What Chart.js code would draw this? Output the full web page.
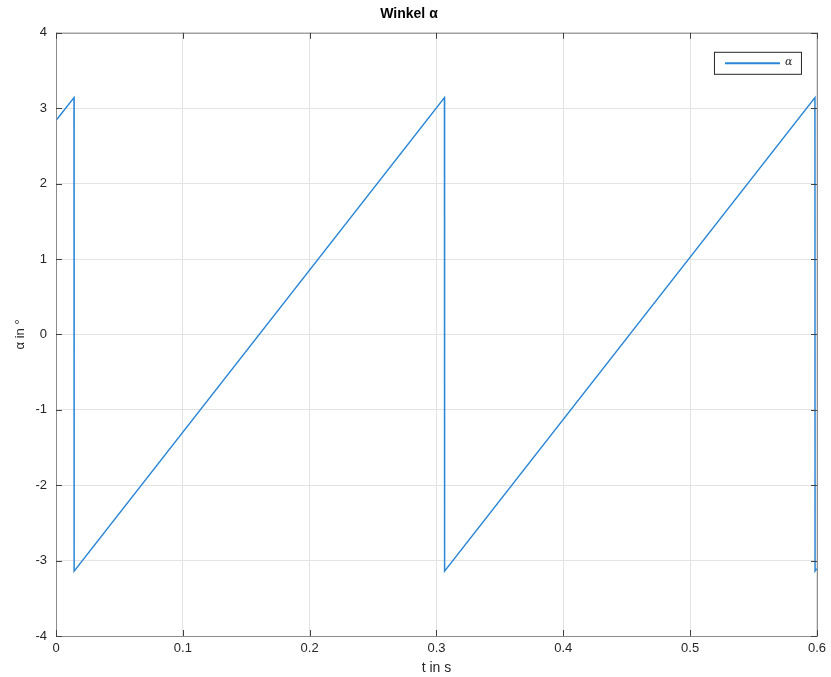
<!DOCTYPE html>
<html>
<head>
<meta charset="utf-8">
<script src="https://cdn.jsdelivr.net/npm/chart.js@4"></script>
<style>
  html, body { margin: 0; padding: 0; background: #fff; }
  #wrap { width: 831px; height: 677px; }
</style>
</head>
<body>
<div id="wrap"><canvas id="alphaChart" width="831" height="677"></canvas></div>
<script>
// Winkel alpha over time (sawtooth between -pi and pi)
const timeValues = [0, 0.0142, 0.0143, 0.3063, 0.3064, 0.5984, 0.5985, 0.6]
const alphaValues = [2.836, 3.14, -3.14, 3.14, -3.14, 3.14, -3.14, -3.107]
const xTicks = [0, 0.1, 0.2, 0.3, 0.4, 0.5, 0.6]
const yTicks = [-4, -3, -2, -1, 0, 1, 2, 3, 4]
const seriesLabel = "α"

const fontFamily = "'Liberation Sans', Arial, sans-serif"
const lineColor = "#2a86d6"

const frameBox = {
  id: "frameBox",
  afterDraw(chart) {
    const { ctx, chartArea } = chart
    ctx.save()
    ctx.strokeStyle = "#8c8c8c"
    ctx.lineWidth = 1
    ctx.strokeRect(chartArea.left + 0.5, chartArea.top + 0.5, chartArea.right - chartArea.left, chartArea.bottom - chartArea.top)
    // inward tick marks
    ctx.strokeStyle = "#404040"
    const xs = chart.scales.x, ys = chart.scales.y
    xTicks.forEach((v) => {
      const px = Math.round(xs.getPixelForValue(v)) + 0.5
      ctx.beginPath()
      ctx.moveTo(px, chartArea.bottom); ctx.lineTo(px, chartArea.bottom - 6)
      ctx.moveTo(px, chartArea.top); ctx.lineTo(px, chartArea.top + 6)
      ctx.stroke()
    })
    yTicks.forEach((v) => {
      const py = Math.round(ys.getPixelForValue(v)) + 0.5
      ctx.beginPath()
      ctx.moveTo(chartArea.left, py); ctx.lineTo(chartArea.left + 6, py)
      ctx.moveTo(chartArea.right, py); ctx.lineTo(chartArea.right - 6, py)
      ctx.stroke()
    })
    // legend box, top right inside the plot
    const bx = chartArea.right - 103, by = chartArea.top + 19
    ctx.fillStyle = "#fff"
    ctx.fillRect(bx, by, 87, 22)
    ctx.strokeStyle = "#262626"
    ctx.strokeRect(bx + 0.5, by + 0.5, 87, 22)
    ctx.strokeStyle = lineColor
    ctx.lineWidth = 2
    ctx.beginPath()
    ctx.moveTo(bx + 11, by + 11.5); ctx.lineTo(bx + 66, by + 11.5)
    ctx.stroke()
    ctx.fillStyle = "#262626"
    ctx.font = "italic 11px 'DejaVu Serif', serif"
    ctx.textBaseline = "middle"
    ctx.fillText(seriesLabel, bx + 71, by + 10)
    ctx.restore()
  },
}

new Chart(document.getElementById("alphaChart"), {
  type: "scatter",
  data: {
    datasets: [
      {
        label: seriesLabel,
        data: timeValues.map((t, i) => ({ x: t, y: alphaValues[i] })),
        showLine: true,
        borderColor: lineColor,
        backgroundColor: lineColor,
        borderWidth: 1.5,
        pointRadius: 0,
        tension: 0,
      },
    ],
  },
  options: {
    responsive: false,
    animation: false,
    layout: { padding: { left: 0, right: 13, top: 0, bottom: 0 } },
    plugins: {
      title: {
        display: true,
        text: "Winkel α",
        color: "#000",
        font: { family: fontFamily, size: 14, weight: "bold" },
        padding: { top: 6, bottom: 10 },
      },
      legend: { display: false },
      tooltip: { enabled: false },
    },
    scales: {
      x: {
        type: "linear",
        min: 0,
        max: 0.6,
        afterBuildTicks: (s) => { s.ticks = xTicks.map((v) => ({ value: v })) },
        afterFit: (s) => { s.height = 41 },
        grid: { color: "#e3e3e3", drawTicks: false },
        border: { display: false },
        ticks: {
          color: "#262626",
          padding: 5,
          font: { family: fontFamily, size: 13 },
          callback: (v) => String(+v.toFixed(1)),
        },
        title: {
          display: true,
          text: "t in s",
          color: "#262626",
          font: { family: fontFamily, size: 14 },
          padding: { top: -2, bottom: 0 },
        },
      },
      y: {
        min: -4,
        max: 4,
        afterBuildTicks: (s) => { s.ticks = yTicks.map((v) => ({ value: v })) },
        afterFit: (s) => { s.width = 56 },
        grid: { color: "#e3e3e3", drawTicks: false },
        border: { display: false },
        ticks: {
          color: "#262626",
          padding: 9,
          font: { family: fontFamily, size: 13 },
        },
        title: {
          display: true,
          text: "α in °",
          color: "#262626",
          font: { family: fontFamily, size: 13 },
          padding: { top: 13, bottom: 6 },
        },
      },
    },
  },
  plugins: [frameBox],
})
</script>
</body>
</html>
